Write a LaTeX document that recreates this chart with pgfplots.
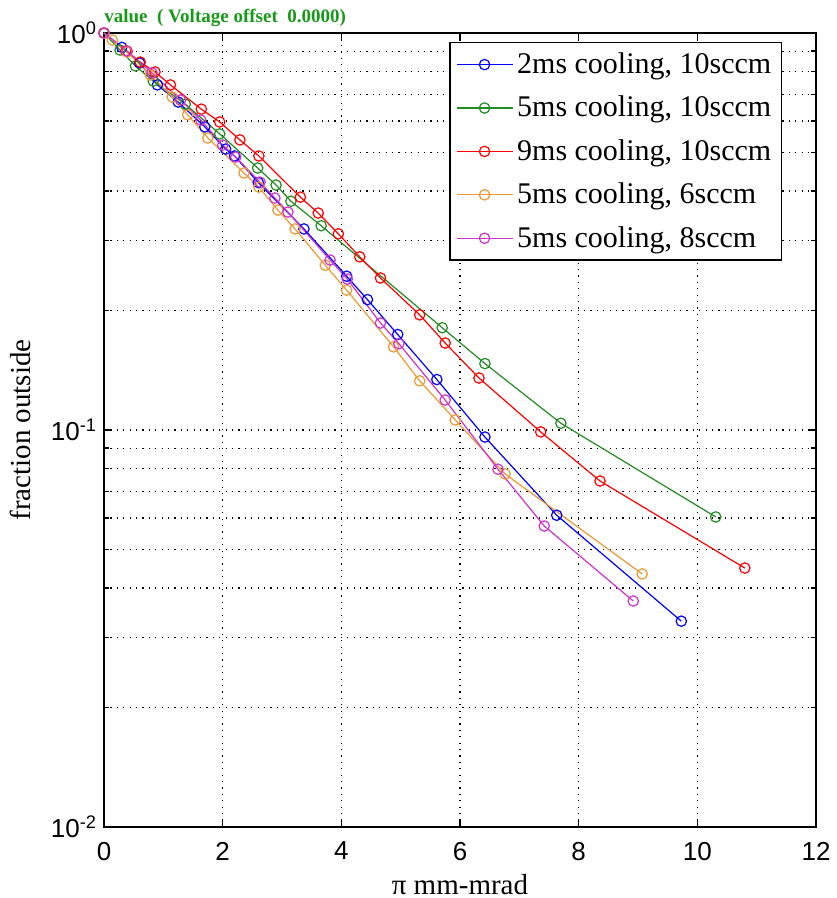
\documentclass[border=0pt]{standalone}
\usepackage{fontspec}
\setmainfont{Liberation Serif}
\setsansfont{Liberation Sans}
\usepackage{pgfplots}
\pgfplotsset{compat=1.18}
\definecolor{mblue}{rgb}{0,0,1}
\definecolor{mgreen}{rgb}{0.13,0.55,0.13}
\definecolor{mred}{rgb}{1,0,0}
\definecolor{morange}{rgb}{0.93,0.6,0.2}
\definecolor{mmagenta}{rgb}{0.8,0.2,0.8}
\definecolor{titlegreen}{rgb}{0.1,0.6,0.1}

\begin{document}
\begin{tikzpicture}
\useasboundingbox (-52pt,-35.5pt) rectangle (366pt,413.5pt);
\begin{axis}[
  scale only axis,
  width=356pt, height=397pt,
  at={(0,0)}, anchor=south west,
  clip=false,
  xmin=0, xmax=12,
  ymode=log, ymin=0.01, ymax=1,
  xtick={0,2,...,12},
  ytick={0.01,0.1,1},
  yticklabels={10\textsuperscript{-2},10\textsuperscript{-1},10\textsuperscript{0}},
  xmajorgrids=true, ymajorgrids=true, yminorgrids=true,
  grid style={black, line width=0.6pt, dash pattern=on 0.6pt off 2.6pt},
  minor grid style={black, line width=0.6pt, dash pattern=on 0.6pt off 2.6pt},
  tick align=inside,
  major tick length=4pt, minor tick length=2.5pt,
  every tick/.style={black, line width=0.7pt},
  axis line style={line width=0.8pt},
  /pgf/number format/assume math mode=true,
  tick label style={font=\sffamily\fontsize{13}{15}\selectfont},
  xticklabel style={yshift=-4pt},
  xlabel={π mm-mrad},
  ylabel={fraction outside},
  label style={font=\fontsize{14.5}{16}\selectfont},
  xlabel style={at={(rel axis cs:0.5,0)}, anchor=base, yshift=-33.5pt},
  ylabel style={yshift=3pt},
  legend cell align=left,
  legend style={at={(1,1)}, anchor=north east, xshift=-17pt, yshift=-4.5pt,
    font=\fontsize{15}{17}\selectfont, draw=black, line width=0.7pt,
    row sep=5.8pt, inner sep=3pt},
  legend image code/.code={\draw[mark repeat=2,mark phase=2] plot coordinates {(0pt,0pt) (14pt,0pt) (28pt,0pt)};},
  every axis plot/.append style={line width=0.6pt, mark=o, mark size=2.6pt},
]
\addplot[mblue] coordinates {(0,1) (0.30,0.92) (0.60,0.84) (0.90,0.74) (1.25,0.67) (1.70,0.58) (2.05,0.51) (2.20,0.49) (2.60,0.42) (3.37,0.321) (4.09,0.244) (4.44,0.213) (4.95,0.174) (5.61,0.134) (6.42,0.096) (7.63,0.061) (9.73,0.033)};
\addlegendentry{2ms cooling, 10sccm}
\addplot[mgreen] coordinates {(0,1) (0.27,0.906) (0.53,0.826) (0.83,0.757) (1.37,0.662) (1.95,0.557) (2.59,0.457) (2.90,0.414) (3.15,0.377) (3.66,0.327) (5.70,0.181) (6.42,0.147) (7.70,0.104) (10.31,0.0604)};
\addlegendentry{5ms cooling, 10sccm}
\addplot[mred] coordinates {(0,1) (0.37,0.901) (0.61,0.845) (0.86,0.798) (1.12,0.740) (1.64,0.643) (1.95,0.597) (2.29,0.538) (2.61,0.490) (3.31,0.386) (3.61,0.352) (3.95,0.312) (4.31,0.273) (4.66,0.2415) (5.32,0.195) (5.75,0.1656) (6.32,0.1352) (7.36,0.0989) (8.36,0.0744) (10.80,0.0449)};
\addlegendentry{9ms cooling, 10sccm}
\addplot[morange] coordinates {(0,1) (0.14,0.960) (0.39,0.896) (0.78,0.784) (1.15,0.690) (1.41,0.622) (1.75,0.544) (2.36,0.444) (2.61,0.409) (2.93,0.358) (3.22,0.321) (3.73,0.260) (4.09,0.225) (4.88,0.162) (5.32,0.133) (5.92,0.106) (6.76,0.0775) (9.07,0.0434)};
\addlegendentry{5ms cooling, 6sccm}
\addplot[mmagenta] coordinates {(0,1) (0.39,0.901) (0.81,0.793) (1.29,0.678) (1.63,0.604) (2.00,0.522) (2.22,0.487) (2.63,0.421) (2.88,0.384) (3.10,0.354) (3.81,0.268) (4.10,0.240) (4.66,0.186) (4.97,0.165) (5.75,0.119) (6.64,0.0797) (7.42,0.0573) (8.92,0.0371)};
\addlegendentry{5ms cooling, 8sccm}
\node[anchor=south west, inner sep=0pt, text=titlegreen, font=\bfseries\fontsize{9.5}{11}\selectfont]
  at (rel axis cs:0,1) [yshift=3pt] {value\ \ (\ Voltage offset\ \ 0.0000)};
\end{axis}
\end{tikzpicture}
\end{document}
